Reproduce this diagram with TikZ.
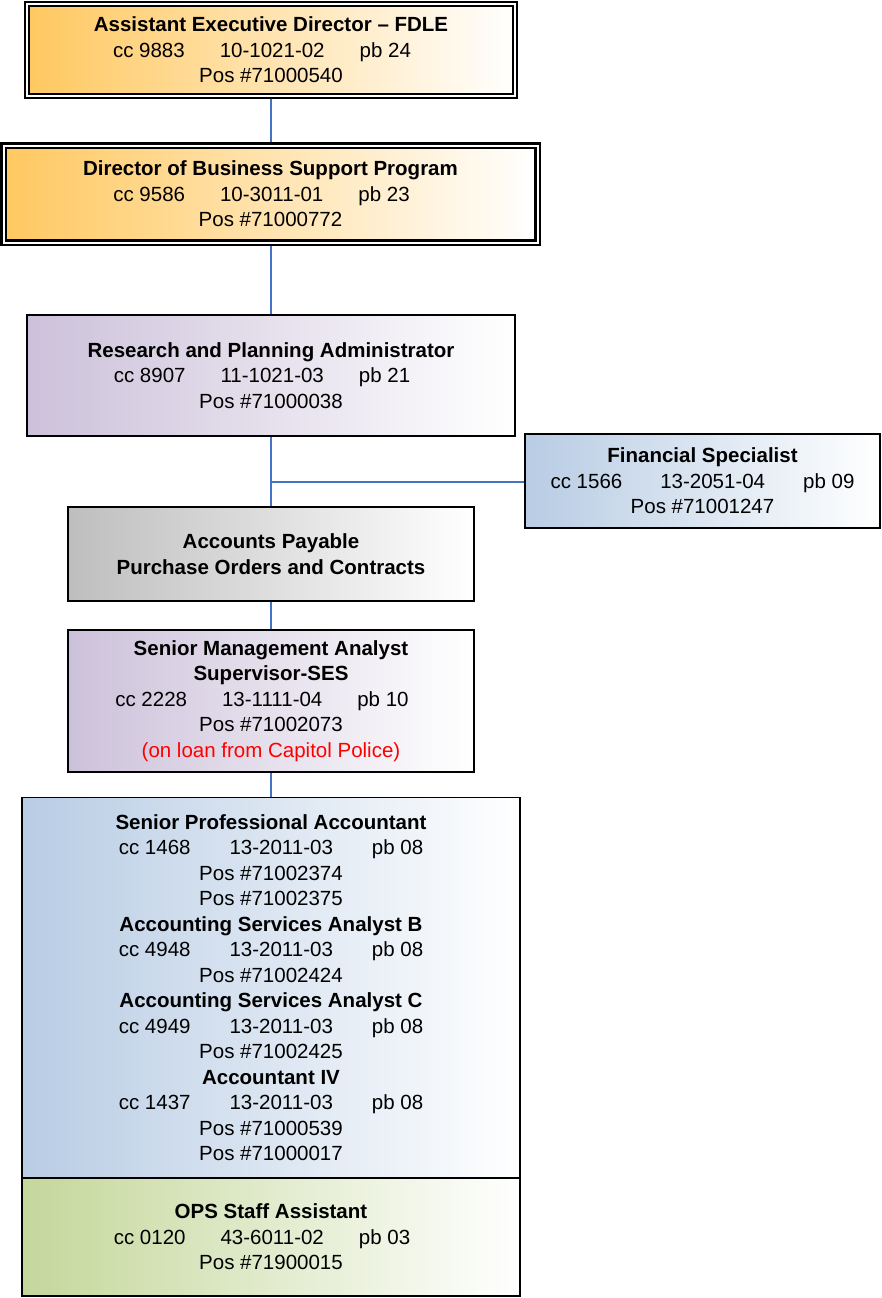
\documentclass[tikz,border=0pt]{standalone}
\usepackage{fontspec}
\setmainfont{Liberation Sans}
\usetikzlibrary{calc}

\definecolor{execorange}{RGB}{255,200,96}
\definecolor{mgmtpurple}{RGB}{204,193,218}
\definecolor{staffblue}{RGB}{184,204,228}
\definecolor{unitgrey}{RGB}{190,190,190}
\definecolor{opsgreen}{RGB}{196,215,155}
\definecolor{linkblue}{RGB}{68,114,196}
\definecolor{loanred}{RGB}{255,0,0}

% three tab-separated fields of a position line; optional arg = gap, then trailing space
\newcommand{\jobcols}[5][35pt]{\mbox{#2\hspace{#1}#3\hspace{#1}#4\hspace{#5}}}

\begin{document}
\begin{tikzpicture}[x=1pt,y=-1pt,
  orgbox/.style={rectangle, draw=black, line width=1.8pt, inner sep=0pt,
    align=center, font=\fontsize{20.5}{25.5}\selectfont, right color=white},
  execbox/.style={orgbox, left color=execorange, right color=white,
    line width=2.3pt, double=white, double distance=2pt},
  mgmtbox/.style={orgbox, left color=mgmtpurple, right color=white},
  staffbox/.style={orgbox, left color=staffblue, right color=white},
  unitbox/.style={orgbox, left color=unitgrey, right color=white},
  opsbox/.style={orgbox, left color=opsgreen, right color=white},
  link/.style={draw=linkblue, line width=1.6pt}]

\useasboundingbox (0,0) rectangle (882,1298);

% reporting lines
\coordinate (c1) at (271,98);
\coordinate (c2) at (271,142);
\coordinate (c3) at (271,246);
\coordinate (c4) at (271,314);
\coordinate (c5) at (271,437);
\coordinate (c6) at (271,506);
\coordinate (c7) at (271,602);
\coordinate (c8) at (271,629);
\coordinate (c9) at (271,773);
\coordinate (c10) at (271,797);
\coordinate (junc) at (271,482);
\coordinate (fsl) at (524,482);
\draw[link] (c1) -- (c2);
\draw[link] (c3) -- (c4);
\draw[link] (c5) -- (c6);
\draw[link] (junc) -- (fsl);
\draw[link] (c7) -- (c8);
\draw[link] (c9) -- (c10);

% boxes
\node[execbox, minimum width=488pt, minimum height=92pt] (aed) at (271,50)
  {\textbf{Assistant Executive Director – FDLE}\\
   \jobcols{cc 9883}{10-1021-02}{pb 24}{18pt}\\
   Pos \#71000540};

\node[execbox, minimum width=534pt, minimum height=97pt] (dbs) at (270.5,194)
  {\textbf{Director of Business Support Program}\\
   \jobcols{cc 9586}{10-3011-01}{pb 23}{18pt}\\
   Pos \#71000772};

\node[mgmtbox, minimum width=488pt, minimum height=121pt] (rpa) at (271,375.5)
  {\textbf{Research and Planning Administrator}\\
   \jobcols{cc 8907}{11-1021-03}{pb 21}{18pt}\\
   Pos \#71000038};

\node[staffbox, minimum width=355pt, minimum height=94pt] (fs) at (702.5,481)
  {\textbf{Financial Specialist}\\
   \jobcols[38pt]{cc 1566}{13-2051-04}{pb 09}{0pt}\\
   Pos \#71001247};

\node[unitbox, minimum width=406pt, minimum height=94pt] (ap) at (271,554)
  {\textbf{Accounts Payable}\\
   \textbf{Purchase Orders and Contracts}};

\node[mgmtbox, minimum width=406pt, minimum height=142pt] (sma) at (271,701)
  {\textbf{Senior Management Analyst}\\
   \textbf{Supervisor-SES}\\
   \jobcols{cc 2228}{13-1111-04}{pb 10}{18pt}\\
   Pos \#71002073\\
   \textcolor{loanred}{(on loan from Capitol Police)}};

\node[staffbox, minimum width=498pt, minimum height=380pt] (acct) at (271,987.5)
  {\textbf{Senior Professional Accountant}\\
   \jobcols[39pt]{cc 1468}{13-2011-03}{pb 08}{0pt}\\
   Pos \#71002374\\
   Pos \#71002375\\
   \textbf{Accounting Services Analyst B}\\
   \jobcols[39pt]{cc 4948}{13-2011-03}{pb 08}{0pt}\\
   Pos \#71002424\\
   \textbf{Accounting Services Analyst C}\\
   \jobcols[39pt]{cc 4949}{13-2011-03}{pb 08}{0pt}\\
   Pos \#71002425\\
   \textbf{Accountant IV}\\
   \jobcols[39pt]{cc 1437}{13-2011-03}{pb 08}{0pt}\\
   Pos \#71000539\\
   Pos \#71000017};

\node[opsbox, minimum width=498pt, minimum height=118pt] (ops) at (271,1237)
  {\textbf{OPS Staff Assistant}\\
   \jobcols{cc 0120}{43-6011-02}{pb 03}{18pt}\\
   Pos \#71900015};

\end{tikzpicture}
\end{document}
